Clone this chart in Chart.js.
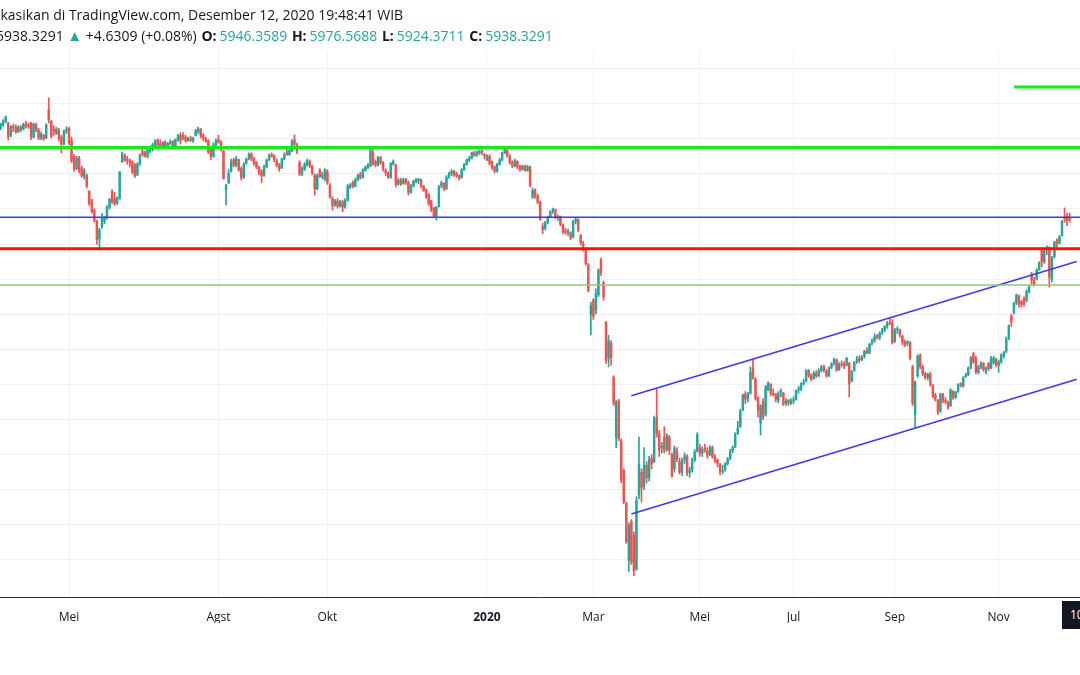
<!DOCTYPE html>
<html><head><meta charset="utf-8">
<script src="https://cdn.jsdelivr.net/npm/chart.js@4.4.1/dist/chart.umd.min.js"></script>
<style>
html,body{margin:0;padding:0;background:#fff;width:1080px;height:675px;overflow:hidden;font-family:"Open Sans",sans-serif;}
#wrap{position:relative;width:1080px;height:675px;overflow:hidden;}
#c{position:absolute;left:0;top:0;}
.hdr{position:absolute;white-space:nowrap;font-size:14px;color:#131722;line-height:20px;}
.hdr b{font-weight:700;margin-left:1px;}
.up{color:#26a69a;font-size:15px;}
.v{color:#26a69a;margin-left:3px;}
#dlabel{position:absolute;left:1062px;top:601px;width:80px;height:28px;background:#131722;color:#fff;font-size:12px;line-height:28px;padding-left:8px;white-space:nowrap;}
</style></head><body>
<div id="wrap">
<canvas id="c" width="1080" height="675"></canvas>
<div class="hdr" id="h1">Dipublikasikan di TradingView.com, Desember 12, 2020 19:48:41 WIB</div>
<div class="hdr" id="h2"><span>5938.3291</span> <span class="up">▲</span> <span>+4.6309 (+0.08%)</span> <b>O:</b><span class="v">5946.3589</span> <b>H:</b><span class="v">5976.5688</span> <b>L:</b><span class="v">5924.3711</span> <b>C:</b><span class="v">5938.3291</span></div>
<div id="dlabel">10 Des '20</div>
</div>
<script>
// ---- trading calendar (IDX) ----
const firstDay = '2019-03-20';
const lastDay = '2020-12-11';
const holidays = ['2019-04-03','2019-04-17','2019-04-19','2019-05-01','2019-05-30','2019-06-03','2019-06-04','2019-06-05','2019-06-06','2019-06-07','2019-12-24','2019-12-25','2019-12-31',
'2020-01-01','2020-03-25','2020-04-10','2020-05-01','2020-05-07','2020-05-21','2020-05-22','2020-05-25','2020-06-01','2020-07-31','2020-08-17','2020-08-20','2020-08-21','2020-10-28','2020-10-29','2020-10-30','2020-12-09'];

// ---- daily OHLC values ----
const opens = [
6460,6482,6500,6490,6420,6470,6465,6440,6468,6455,
6485,6475,6490,6410,6480,6450,6405,6420,6405,6565,
6500,6455,6430,6450,6410,6370,6445,6460,6390,6300,
6230,6290,6230,6185,6190,6100,6045,5995,5930,5830,
5900,5930,5950,6010,6100,6060,6033,6060,6270,6300,
6285,6276,6268,6250,6195,6255,6330,6320,6300,6330,
6340,6360,6390,6370,6360,6378,6350,6372,6385,6355,
6395,6420,6420,6410,6390,6405,6390,6420,6440,6455,
6420,6400,6390,6345,6300,6365,6395,6385,6330,6110,
6150,6215,6280,6250,6280,6230,6180,6260,6290,6315,
6285,6265,6240,6215,6190,6240,6280,6310,6300,6275,
6250,6235,6285,6325,6310,6330,6395,6365,6265,6200,
6225,6250,6270,6245,6190,6115,6220,6185,6170,6210,
6135,6060,6025,6045,6015,6040,6010,6050,6125,6150,
6130,6165,6200,6180,6220,6235,6245,6320,6270,6250,
6290,6265,6220,6205,6180,6255,6250,6140,6165,6145,
6170,6150,6095,6130,6155,6160,6165,6130,6110,6080,
6045,6005,5960,6015,6130,6145,6115,6180,6200,6215,
6200,6190,6180,6225,6255,6280,6290,6320,6305,6320,
6330,6310,6280,6300,6270,6240,6215,6255,6280,6320,
6335,6300,6265,6245,6270,6240,6225,6245,6220,6240,
6065,6110,6075,6040,5900,5890,5925,5955,5990,5995,
5950,5955,5910,5875,5866,5865,5840,5930,5940,5850,
5800,5770,5680,5400,5480,5420,5510,5710,5580,5355,
5150,5235,5040,4700,4905,4680,4510,4320,4000,4220,
4140,3950,4370,4500,4420,4540,4470,4580,4560,4810,
4720,4640,4700,4630,4700,4600,4520,4620,4560,4500,
4570,4590,4500,4515,4570,4620,4640,4610,4635,4620,
4600,4640,4585,4570,4545,4505,4515,4550,4580,4625,
4645,4720,4760,4855,4945,4920,4950,5090,5030,4925,
4780,4900,4830,4970,5000,4950,4940,4910,4955,4950,
4890,4910,4895,4905,4915,4970,4975,5005,5020,5080,
5050,5035,5065,5050,5080,5100,5075,5050,5100,5120,
5140,5085,5120,5115,5110,5120,5020,5080,5130,5150,
5140,5160,5190,5180,5235,5250,5280,5265,5295,5310,
5330,5350,5350,5245,5310,5310,5275,5240,5235,5240,
5100,4830,5050,5165,5100,5060,5040,5060,4995,4940,
4910,4850,4945,4910,4900,4880,4960,4925,4960,5005,
4990,5045,5055,5095,5175,5150,5070,5100,5120,5070,
5120,5095,5125,5140,5110,5130,5165,5190,5265,5390,
5410,5465,5505,5470,5490,5480,5530,5630,5590,5600,
5655,5775,5700,5770,5780,5600,5730,5820,5805,5850,
5950,5960,5946];
const highs = [
6490,6510,6530,6495,6475,6485,6480,6475,6475,6490,
6500,6490,6495,6490,6490,6460,6440,6425,6485,6633,
6505,6475,6465,6460,6420,6450,6470,6465,6410,6310,
6300,6300,6245,6230,6200,6105,6055,6000,5935,5890,
5975,5960,6020,6060,6110,6095,6070,6215,6325,6315,
6300,6285,6275,6260,6265,6315,6345,6330,6340,6360,
6375,6395,6400,6395,6385,6390,6380,6395,6390,6400,
6425,6435,6435,6420,6410,6415,6410,6455,6467,6460,
6430,6410,6395,6350,6378,6400,6420,6390,6335,6140,
6225,6285,6290,6300,6285,6240,6265,6290,6320,6320,
6295,6270,6245,6225,6250,6285,6315,6320,6310,6285,
6260,6290,6320,6340,6345,6395,6422,6375,6275,6240,
6265,6285,6280,6250,6200,6200,6230,6210,6230,6225,
6145,6070,6055,6060,6050,6050,6060,6140,6145,6160,
6175,6200,6210,6230,6245,6260,6350,6340,6280,6300,
6300,6270,6230,6210,6265,6280,6255,6175,6175,6175,
6175,6160,6140,6165,6175,6175,6170,6135,6115,6090,
6050,6010,6015,6135,6160,6150,6190,6210,6225,6220,
6210,6195,6230,6260,6285,6300,6325,6330,6330,6335,
6345,6315,6310,6310,6275,6245,6260,6290,6325,6350,
6340,6310,6275,6285,6275,6250,6250,6250,6250,6245,
6120,6115,6085,6045,5920,5930,5960,5990,6005,6000,
5965,5960,5915,5890,5885,5870,5935,5950,5945,5855,
5815,5780,5690,5470,5490,5545,5660,5720,5590,5360,
5280,5250,5050,4910,4915,4690,4520,4330,4210,4230,
4160,4360,4700,4520,4640,4560,4590,4600,4820,4974,
4740,4670,4760,4720,4710,4610,4650,4640,4580,4580,
4610,4600,4530,4580,4630,4725,4660,4645,4660,4640,
4650,4650,4600,4575,4550,4540,4555,4585,4630,4650,
4725,4790,4860,4945,4960,4955,5100,5140,5040,4930,
4885,4920,4995,5015,5005,4975,4950,4960,4975,4955,
4920,4915,4920,4930,4970,4990,5010,5030,5085,5085,
5060,5075,5080,5090,5110,5110,5085,5100,5125,5150,
5145,5125,5135,5130,5155,5125,5080,5130,5160,5165,
5165,5195,5210,5235,5260,5290,5285,5300,5320,5335,
5360,5380,5370,5320,5330,5315,5280,5255,5250,5245,
5110,5020,5170,5175,5110,5070,5065,5070,5000,4950,
4915,4950,4950,4925,4905,4975,4965,4960,5005,5010,
5045,5065,5100,5160,5182,5160,5110,5130,5125,5100,
5125,5160,5160,5150,5140,5175,5190,5270,5340,5400,
5470,5515,5510,5480,5500,5540,5565,5640,5610,5660,
5700,5780,5770,5790,5785,5730,5815,5830,5850,5935,
6006,5975,5977];
const lows = [
6450,6470,6490,6395,6410,6440,6430,6435,6440,6450,
6460,6460,6395,6405,6440,6395,6395,6390,6400,6490,
6405,6420,6425,6390,6320,6365,6430,6365,6265,6215,
6225,6205,6180,6170,6120,6020,5975,5925,5800,5766,
5890,5915,5940,6000,6030,6020,6025,6055,6265,6270,
6255,6240,6200,6180,6190,6250,6300,6295,6290,6320,
6330,6350,6355,6350,6350,6340,6345,6365,6345,6350,
6385,6370,6395,6380,6385,6385,6380,6415,6430,6405,
6390,6380,6315,6280,6295,6360,6375,6330,6170,6023,
6145,6210,6240,6240,6215,6165,6175,6255,6280,6275,
6250,6230,6195,6150,6185,6235,6275,6295,6270,6240,
6215,6230,6280,6305,6305,6325,6360,6315,6190,6190,
6220,6245,6235,6195,6080,6110,6180,6170,6160,6140,
6060,5994,6015,6005,6010,5985,6005,6045,6115,6120,
6125,6160,6170,6175,6215,6230,6240,6250,6240,6245,
6255,6215,6190,6175,6175,6250,6125,6135,6135,6140,
6140,6080,6090,6125,6150,6145,6120,6100,6060,6020,
5985,5950,5937,6010,6120,6105,6110,6175,6190,6185,
6180,6165,6175,6220,6250,6270,6285,6300,6300,6310,
6310,6285,6275,6250,6225,6205,6210,6250,6275,6315,
6295,6255,6235,6240,6230,6215,6220,6215,6215,6125,
6060,6060,6030,5935,5860,5880,5915,5950,5975,5945,
5935,5905,5860,5855,5850,5825,5835,5915,5870,5795,
5760,5680,5527,5283,5370,5400,5500,5620,5480,5120,
5100,5110,4880,4640,4680,4440,4320,4095,3935,3975,
3911,3940,4350,4330,4400,4440,4450,4520,4555,4700,
4590,4610,4610,4620,4600,4470,4500,4560,4490,4480,
4550,4480,4470,4500,4560,4615,4590,4590,4615,4580,
4595,4580,4555,4530,4485,4490,4505,4540,4570,4610,
4640,4715,4755,4850,4890,4900,4945,5030,4910,4815,
4712,4800,4820,4965,4935,4935,4900,4895,4930,4880,
4880,4880,4885,4890,4910,4950,4965,4995,5015,5040,
5020,5030,5040,5045,5070,5070,5040,5045,5090,5110,
5075,5080,5100,5090,5105,4928,5015,5075,5120,5125,
5135,5150,5175,5175,5225,5240,5260,5255,5285,5300,
5320,5340,5230,5240,5290,5270,5225,5215,5220,5140,
4880,4752,5040,5090,5050,5030,5025,4990,4925,4905,
4830,4840,4895,4890,4860,4875,4915,4920,4955,4985,
4985,5040,5050,5090,5120,5060,5060,5090,5075,5060,
5080,5090,5115,5100,5070,5120,5150,5180,5255,5330,
5400,5455,5440,5440,5445,5470,5520,5565,5560,5595,
5650,5670,5690,5740,5555,5585,5720,5780,5800,5845,
5925,5905,5924];
const closes = [
6482,6501,6525,6411,6470,6462,6442,6468,6452,6482,
6475,6470,6410,6484,6450,6405,6430,6401,6481,6507,
6414,6447,6455,6402,6370,6445,6455,6375,6275,6230,
6290,6215,6190,6220,6130,6030,5985,5935,5826,5880,
5951,5950,6010,6057,6040,6033,6060,6209,6315,6280,
6276,6265,6210,6190,6255,6305,6310,6300,6335,6350,
6365,6385,6365,6360,6378,6350,6372,6385,6355,6395,
6418,6390,6405,6388,6403,6390,6405,6445,6456,6420,
6403,6387,6325,6300,6365,6390,6381,6340,6175,6135,
6204,6270,6250,6285,6225,6180,6255,6285,6310,6285,
6260,6240,6205,6190,6240,6275,6305,6300,6280,6250,
6230,6285,6310,6310,6335,6385,6370,6330,6200,6230,
6255,6275,6245,6205,6115,6190,6185,6195,6220,6150,
6070,6020,6045,6015,6040,6010,6050,6130,6135,6128,
6165,6190,6180,6220,6240,6250,6335,6255,6250,6295,
6265,6228,6207,6180,6260,6270,6140,6165,6145,6168,
6150,6095,6130,6158,6168,6170,6130,6105,6070,6030,
5995,5960,6011,6125,6150,6115,6180,6200,6215,6195,
6190,6175,6225,6255,6280,6290,6320,6305,6325,6329,
6318,6300,6300,6260,6235,6215,6255,6280,6320,6335,
6305,6265,6245,6275,6240,6225,6245,6220,6240,6135,
6105,6075,6040,5940,5884,5922,5954,5986,5999,5952,
5954,5913,5871,5866,5872,5837,5928,5942,5882,5807,
5787,5688,5535,5452,5390,5518,5650,5638,5498,5136,
5250,5154,4895,4900,4690,4456,4330,4105,4195,3989,
3937,4338,4545,4414,4538,4466,4570,4550,4811,4720,
4627,4649,4624,4707,4626,4480,4635,4575,4501,4567,
4593,4496,4513,4567,4617,4716,4606,4630,4627,4597,
4639,4588,4567,4550,4507,4511,4548,4575,4620,4641,
4716,4753,4847,4941,4916,4947,5070,5035,4920,4854,
4880,4816,4987,5010,4950,4942,4915,4950,4964,4890,
4904,4895,4905,4914,4966,4973,5006,5014,5076,5052,
5031,5064,5050,5079,5098,5079,5051,5096,5115,5145,
5082,5116,5114,5105,5149,5006,5074,5127,5143,5140,
5157,5190,5178,5230,5248,5272,5265,5292,5310,5330,
5350,5346,5238,5311,5318,5280,5239,5230,5244,5149,
4892,5016,5161,5100,5058,5038,5059,4999,4934,4917,
4843,4945,4906,4903,4870,4970,4926,4958,4999,4995,
5040,5053,5094,5150,5130,5070,5100,5120,5085,5094,
5090,5150,5150,5112,5130,5165,5180,5260,5335,5356,
5462,5510,5458,5455,5460,5530,5557,5594,5571,5652,
5695,5701,5760,5783,5612,5724,5812,5805,5840,5930,
5944,5933,5938];

// ---- time-axis tick labels ----
const tickMonths = ['2019-05','2019-08','2019-10','2020-01','2020-03','2020-05','2020-07','2020-09','2020-11'];
const tickLabels = ['Mei','Agst','Okt','2020','Mar','Mei','Jul','Sep','Nov'];

// ---- drawn levels (price) and channel (bar index, price) ----
const levelGreen = 6350;
const levelGreenTop = 6695;
const levelGreenTopFrom = '2020-11-10';
const levelBlue = 5953;
const levelRed = 5774;
const levelOlive = 5567;
const channelUpper = [[249, 4936], [424.8, 5701]];
const channelLower = [[249, 4262], [424.8, 5030]];

// ---- build calendar ----
const dates = [];
{
  const d = new Date(firstDay + 'T00:00:00Z');
  const end = new Date(lastDay + 'T00:00:00Z');
  while (d <= end) {
    const s = d.toISOString().slice(0, 10);
    const dow = d.getUTCDay();
    if (dow !== 0 && dow !== 6 && !holidays.includes(s)) dates.push(s);
    d.setUTCDate(d.getUTCDate() + 1);
  }
}
const tickIdx = tickMonths.map(m => dates.findIndex(s => s.startsWith(m)));

const X_MIN = -0.24, X_MAX = 426.1;
const Y_MIN = 3789, Y_MAX = 6906;

const UP = '#26a69a', DOWN = '#ef5350';
const n = closes.length;
const idx = Array.from({length: n}, (_, i) => i);
const colors = idx.map(i => closes[i] >= opens[i] ? UP : DOWN);
const wickData = idx.map(i => ({x: i, y: [lows[i], highs[i]]}));
const bodyData = idx.map(i => ({x: i, y: [opens[i], closes[i]]}));

function hline(v, from, to, color, w) {
  return {type: 'line', data: [{x: from, y: v}, {x: to, y: v}], borderColor: color, borderWidth: w,
    pointRadius: 0, fill: false, order: 0, tension: 0};
}
function seg(p, color, w) {
  return {type: 'line', data: p.map(q => ({x: q[0], y: q[1]})), borderColor: color, borderWidth: w,
    pointRadius: 0, fill: false, order: 0, tension: 0};
}
const topFrom = dates.indexOf(levelGreenTopFrom);

const ctx = document.getElementById('c').getContext('2d');
new Chart(ctx, {
  type: 'bar',
  data: {
    datasets: [
      hline(levelOlive, X_MIN, X_MAX, '#93c47d', 1.5),
      hline(levelRed, X_MIN, X_MAX, '#ff1010', 3),
      hline(levelBlue, X_MIN, X_MAX, '#3b3bf5', 1.5),
      hline(levelGreen, X_MIN, X_MAX, '#11ee11', 3),
      hline(levelGreenTop, topFrom, X_MAX, '#11ee11', 3),
      seg(channelUpper, '#3b3bf5', 1.6),
      seg(channelLower, '#3b3bf5', 1.6),
      {type: 'bar', data: wickData, backgroundColor: colors, barThickness: 1, grouped: false, order: 2, borderWidth: 0},
      {type: 'bar', data: bodyData, backgroundColor: colors, barThickness: 1.8, grouped: false, order: 1, borderWidth: 0, minBarLength: 1}
    ]
  },
  options: {
    responsive: false,
    animation: false,
    events: [],
    layout: {padding: {top: 50, bottom: 52, left: 0, right: 0}},
    plugins: {legend: {display: false}, tooltip: {enabled: false}},
    scales: {
      x: {
        type: 'linear', min: X_MIN, max: X_MAX, offset: false,
        afterBuildTicks: s => { s.ticks = tickIdx.map(v => ({value: v})); },
        afterFit: s => { s.height = 26; },
        ticks: {
          autoSkip: false, maxRotation: 0, padding: 13, color: '#131722',
          callback: v => tickLabels[tickIdx.indexOf(v)],
          font: c => ({family: 'Open Sans', size: 12, weight: (c.tick && c.tick.label === '2020') ? 'bold' : 'normal'})
        },
        grid: {color: '#eef0f5', drawTicks: false, lineWidth: 1, offset: false},
        border: {display: true, color: '#2a2e39', width: 1}
      },
      y: {
        type: 'linear', position: 'right', min: Y_MIN, max: Y_MAX,
        afterBuildTicks: s => { s.ticks = s.ticks.filter(t => Math.abs(t.value % 200) < 1e-6); },
        afterFit: s => { s.width = 0; },
        ticks: {display: false, stepSize: 200},
        grid: {color: '#eef0f5', drawTicks: false, lineWidth: 1},
        border: {display: false}
      }
    }
  }
});

// header placement: first line is clipped at the left edge in the reference
const h1 = document.getElementById('h1');
const probe = document.createElement('span');
probe.className = 'hdr'; probe.style.visibility = 'hidden'; probe.textContent = 'Dipubli';
document.getElementById('wrap').appendChild(probe);
h1.style.left = (-probe.offsetWidth) + 'px'; h1.style.top = '5px';
probe.remove();
const h2 = document.getElementById('h2');
h2.style.left = '-4px'; h2.style.top = '25px';
</script>
</body></html>
